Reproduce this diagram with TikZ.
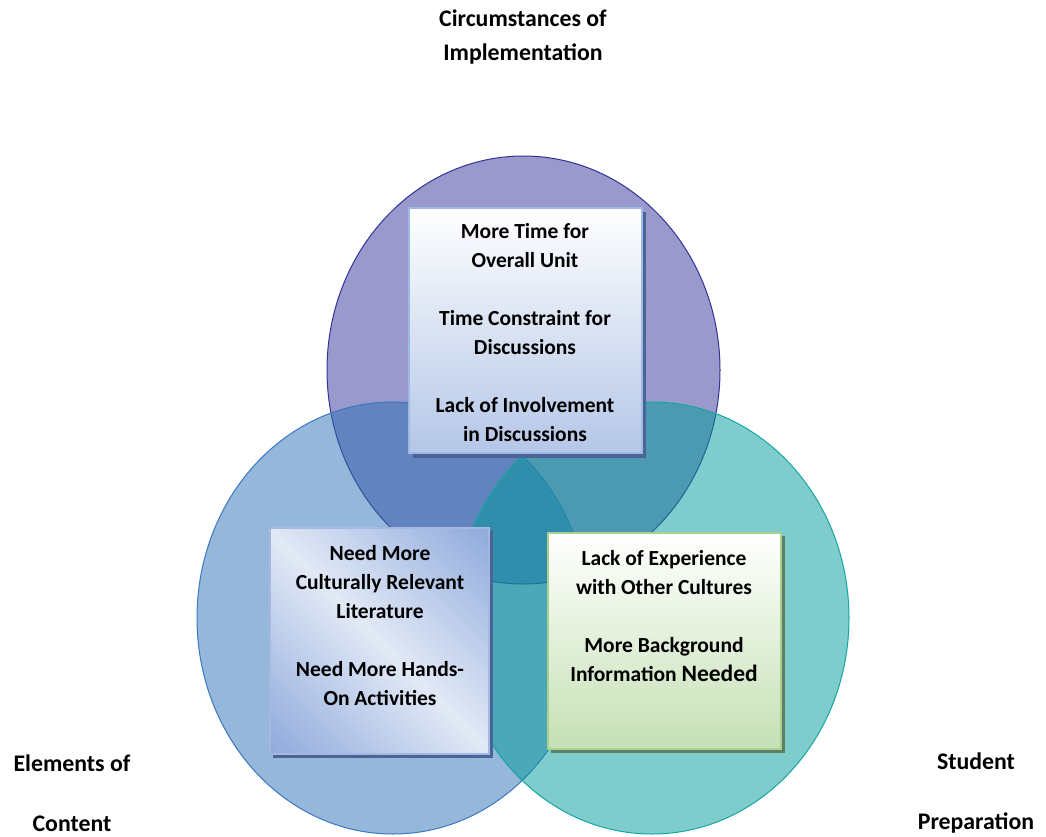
\documentclass[tikz,border=0pt]{standalone}
\usepackage{fontspec}
\setmainfont{Carlito}
\usetikzlibrary{shadings}
\definecolor{topc}{HTML}{333399}
\definecolor{leftc}{HTML}{2B6FB3}
\definecolor{leftline}{HTML}{3A78C2}
\definecolor{rightc}{HTML}{009999}
\definecolor{rightline}{HTML}{14A6A4}
\definecolor{tbBorder}{HTML}{9DB9E4}
\definecolor{tbBottom}{HTML}{B4C6E7}
\definecolor{lbBorder}{HTML}{A4B8E0}
\definecolor{lbDark}{HTML}{8FAADC}
\definecolor{lbLight}{HTML}{E2E9F6}
\definecolor{rbBorder}{HTML}{A9D08E}
\definecolor{rbBottom}{HTML}{C5E0B4}
\definecolor{shBlue}{HTML}{4A6496}
\definecolor{shGreen}{HTML}{5E7F66}
\pgfdeclarehorizontalshading{reflblue}{100bp}{color(0bp)=(lbDark); color(15bp)=(lbDark); color(50bp)=(lbLight); color(85bp)=(lbDark); color(100bp)=(lbDark)}
\tikzset{
  venn/.style={line width=1pt, fill opacity=0.5},
  boxtext/.style={align=center, font=\fontsize{21.5}{29}\selectfont\bfseries, inner sep=0pt},
  label/.style={align=center, font=\fontsize{23.8}{34}\selectfont\bfseries, inner sep=0pt},
  sidelabel/.style={align=center, font=\fontsize{23.8}{60}\selectfont\bfseries, inner sep=0pt},
}
\begin{document}
\begin{tikzpicture}[x=1pt,y=-1pt]
\useasboundingbox (0,0) rectangle (1046,836);
% circles
\draw[venn, draw=topc, fill=topc] (523.5,370) ellipse [x radius=196.5, y radius=214];
\draw[venn, draw=leftline, fill=leftc] (393,618) ellipse [x radius=196, y radius=216];
\draw[venn, draw=rightline, fill=rightc] (652,618) ellipse [x radius=197, y radius=216];
% top box
\fill[shBlue] (413,212) rectangle (646,458);
\shade[top color=white, bottom color=tbBottom, draw=tbBorder, line width=2pt] (409,208) rectangle (642,453);
\node[boxtext] (tb) at (525,332.5) {More Time for\\Overall Unit\\[29pt]Time Constraint for\\Discussions\\[29pt]Lack of Involvement\\in Discussions};
% left box
\fill[shBlue] (273,531) rectangle (493,758);
\shade[shading=reflblue, shading angle=45, draw=lbBorder, line width=2pt] (270,528) rectangle (489,754);
\node[boxtext] (lb) at (380,626) {Need More\\Culturally Relevant\\Literature\\[29pt]Need More Hands-\\On Activities};
% right box
\fill[shGreen] (551,536) rectangle (785,753);
\shade[top color=white, bottom color=rbBottom, draw=rbBorder, line width=2pt] (548,533) rectangle (781,749);
\node[boxtext] (rb) at (664,616) {Lack of Experience\\with Other Cultures\\[29pt]More Background\\Information {\fontsize{23.5}{29}\selectfont Needed}};
% labels
\node[label] (ci) at (523,37) {Circumstances of\\Implementation};
\node[sidelabel] (ec) at (72,793) {Elements of\\Content};
\node[sidelabel] (sp) at (976,793) {Student\\Preparation};
\end{tikzpicture}
\end{document}
